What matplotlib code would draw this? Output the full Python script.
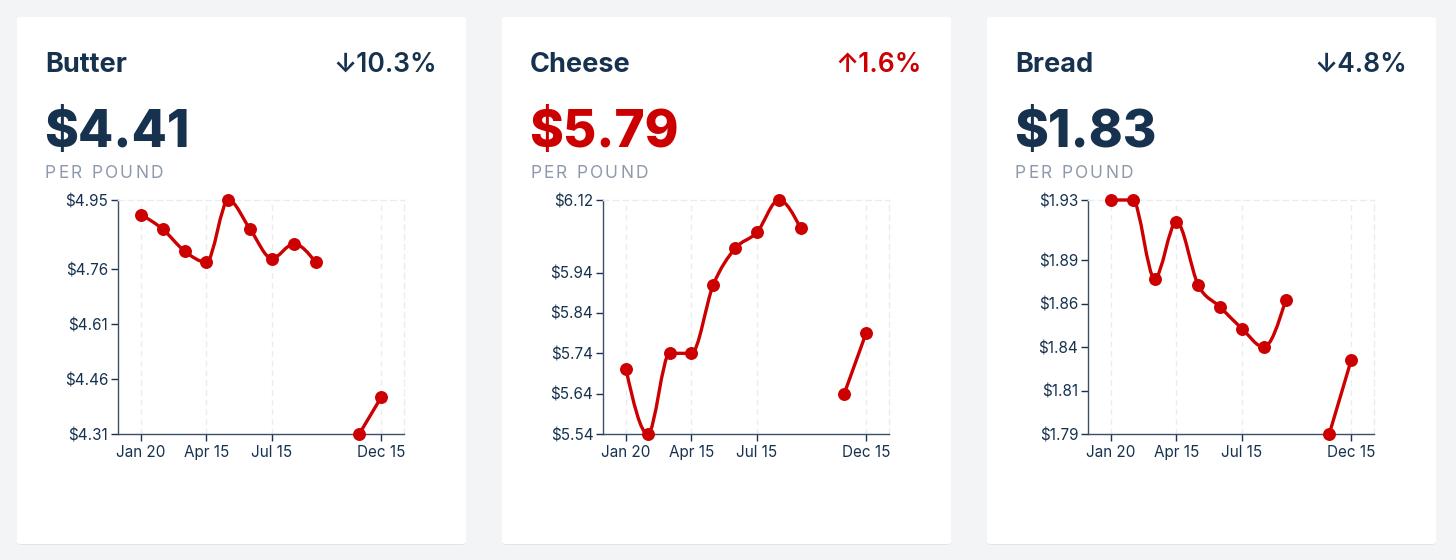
import numpy as np
import matplotlib.pyplot as plt
from matplotlib.patches import FancyBboxPatch, PathPatch
from matplotlib.path import Path

W, H = 1456, 560

navy = '#16324f'
red = '#cc0000'
grey = '#8e9aab'

# данные
names = ['Butter', 'Cheese', 'Bread']
prices = ['$4.41', '$5.79', '$1.83']
changes = ['\u219310.3%', '\u21911.6%', '\u21934.8%']
price_colors = [navy, red, navy]
change_colors = [navy, red, navy]

months = np.arange(12)
x_ticks = [0, 3, 6, 11]
x_labels = ['Jan 20', 'Apr 15', 'Jul 15', 'Dec 15']

butter = [4.91, 4.87, 4.81, 4.78, 4.95, 4.87, 4.79, 4.83, 4.78, np.nan, 4.31, 4.41]
cheese = [5.70, 5.54, 5.74, 5.74, 5.91, 6.00, 6.04, 6.12, 6.05, np.nan, 5.64, 5.79]
bread = [1.93, 1.93, 1.883, 1.917, 1.879, 1.866, 1.853, 1.842, 1.870, np.nan, 1.79, 1.834]

butter_ticks = [4.31, 4.46, 4.61, 4.76, 4.95]
cheese_ticks = [5.54, 5.64, 5.74, 5.84, 5.94, 6.12]
bread_ticks = [1.79, 1.816, 1.842, 1.868, 1.894, 1.93]
bread_tick_labels = ['$1.79', '$1.81', '$1.84', '$1.86', '$1.89', '$1.93']

series = [butter, cheese, bread]
y_ticks = [butter_ticks, cheese_ticks, bread_ticks]
y_tick_labels = [['$%.2f' % v for v in butter_ticks],
                 ['$%.2f' % v for v in cheese_ticks],
                 bread_tick_labels]

plt.rcParams['font.family'] = ['Inter', 'DejaVu Sans']


def fx(px):
    return px / W


def fy(py):
    return 1 - py / H


def spaced_text(fig, x, y, s, gap, **kw):
    # текст с разрядкой букв
    r = fig.canvas.get_renderer()
    for ch in s:
        t = fig.text(fx(x), fy(y), ch, va='baseline', ha='left', **kw)
        if ch == ' ':
            x += 5
        else:
            x += t.get_window_extent(r).width
        x += gap


def monotone_path(xs, ys):
    # кривая как d3.curveMonotoneX
    n = len(xs)
    if n == 2:
        return Path([(xs[0], ys[0]), (xs[1], ys[1])], [Path.MOVETO, Path.LINETO])
    t = np.zeros(n)
    for i in range(1, n - 1):
        h0 = xs[i] - xs[i - 1]
        h1 = xs[i + 1] - xs[i]
        s0 = (ys[i] - ys[i - 1]) / h0
        s1 = (ys[i + 1] - ys[i]) / h1
        p = (s0 * h1 + s1 * h0) / (h0 + h1)
        t[i] = (np.sign(s0) + np.sign(s1)) * min(abs(s0), abs(s1), 0.5 * abs(p))
    t[0] = (3 * (ys[1] - ys[0]) / (xs[1] - xs[0]) - t[1]) / 2
    t[-1] = (3 * (ys[-1] - ys[-2]) / (xs[-1] - xs[-2]) - t[-2]) / 2
    verts = [(xs[0], ys[0])]
    codes = [Path.MOVETO]
    for i in range(n - 1):
        dx = (xs[i + 1] - xs[i]) / 3
        verts += [(xs[i] + dx, ys[i] + dx * t[i]),
                  (xs[i + 1] - dx, ys[i + 1] - dx * t[i + 1]),
                  (xs[i + 1], ys[i + 1])]
        codes += [Path.CURVE4] * 3
    return Path(verts, codes)


fig = plt.figure(figsize=(W / 100, H / 100), dpi=100)
fig.patch.set_facecolor('#f3f4f6')

for k in range(3):
    x0 = 17 + k * 485
    # тень и карточка
    shadow = FancyBboxPatch((fx(x0), fy(545)), fx(449), 528 / H,
                            boxstyle='round,pad=0,rounding_size=0.004',
                            transform=fig.transFigure, fc='#e2e4e8', ec='none', zorder=0)
    card = FancyBboxPatch((fx(x0), fy(544)), fx(449), 527 / H,
                          boxstyle='round,pad=0,rounding_size=0.003',
                          transform=fig.transFigure, fc='white', ec='none', zorder=0.5)
    fig.patches.extend([shadow, card])

    fig.text(fx(x0 + 28), fy(72), names[k], fontsize=19.5, fontweight='bold',
             color=navy, va='baseline', ha='left')
    fig.text(fx(x0 + 420), fy(72), changes[k], fontsize=19, fontweight='semibold',
             color=change_colors[k], va='baseline', ha='right')
    fig.text(fx(x0 + 27), fy(147), prices[k], fontsize=37, fontweight='heavy',
             color=price_colors[k], va='baseline', ha='left')
    spaced_text(fig, x0 + 28, 178, 'PER POUND', 2.2, fontsize=12.5, color=grey)

    ax = fig.add_axes([fx(x0 + 101), fy(434), fx(286), 234 / H], zorder=2)
    ax.set_facecolor('none')
    vals = np.array(series[k], dtype=float)
    ax.set_xlim(-1.054, 12.05)
    ax.set_ylim(y_ticks[k][0], y_ticks[k][-1])

    ok = ~np.isnan(vals)
    start = None
    for i in range(len(vals) + 1):
        if i < len(vals) and ok[i]:
            if start is None:
                start = i
        elif start is not None:
            path = monotone_path(months[start:i].astype(float), vals[start:i])
            ax.add_patch(PathPatch(path, fill=False, ec=red, lw=2.4,
                                   capstyle='round', joinstyle='round',
                                   clip_on=False, zorder=3))
            start = None
    ax.plot(months, vals, 'o', color=red, markersize=8.3, clip_on=False, zorder=4)

    ax.set_xticks(x_ticks)
    ax.set_xticklabels(x_labels)
    ax.set_yticks(y_ticks[k])
    ax.set_yticklabels(y_tick_labels[k])
    ax.tick_params(colors=navy, labelsize=11, length=5, width=1, pad=2)
    ax.tick_params(axis='x', pad=3)

    for s in ['left', 'bottom']:
        ax.spines[s].set_color('#3a5068')
        ax.spines[s].set_linewidth(1)
    for s in ['top', 'right']:
        ax.spines[s].set_color('#eaecef')
        ax.spines[s].set_linestyle((0, (4, 3)))
        ax.spines[s].set_linewidth(1)
    ax.grid(axis='x', color='#eaecef', linestyle=(0, (4, 3)), linewidth=1)
    ax.set_axisbelow(True)

fig.savefig('out.png', dpi=100, facecolor=fig.get_facecolor())
